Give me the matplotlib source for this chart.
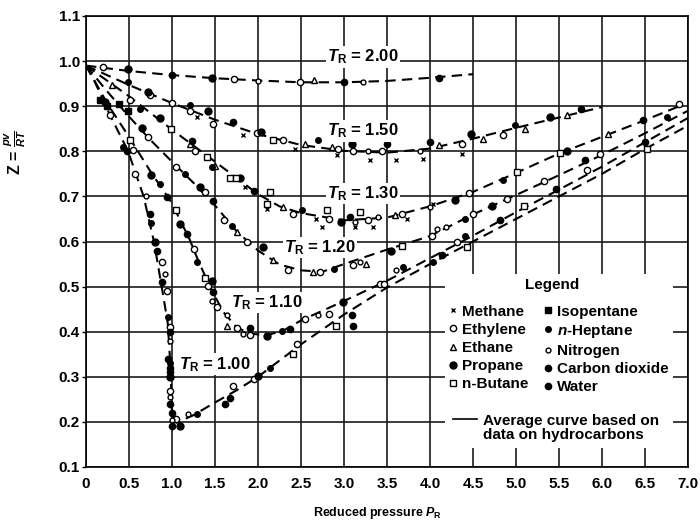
import numpy as np
import matplotlib
matplotlib.use("Agg")
import matplotlib.pyplot as plt
from matplotlib.lines import Line2D
from matplotlib.patches import Rectangle

plt.rcParams['font.family'] = ['Liberation Sans', 'DejaVu Sans']
plt.rcParams['font.weight'] = 'bold'
plt.rcParams['mathtext.fontset'] = 'custom'
plt.rcParams['mathtext.rm'] = 'Liberation Sans:bold'
plt.rcParams['mathtext.it'] = 'Liberation Sans:italic:bold'
plt.rcParams['mathtext.bf'] = 'Liberation Sans:bold'

# average curves (reduced pressure, Z) for each reduced temperature
p_tr200 = [0, 0.5, 1.0, 1.5, 2.0, 2.5, 3.0, 3.5, 4.0, 4.5]
z_tr200 = [0.99, 0.978, 0.969, 0.962, 0.957, 0.953, 0.953, 0.956, 0.963, 0.971]

p_tr150 = [0, 0.5, 1.0, 1.5, 2.0, 2.5, 3.0, 3.5, 4.0, 4.5, 5.0, 5.5, 6.0]
z_tr150 = [0.99, 0.947, 0.907, 0.870, 0.838, 0.814, 0.801, 0.797, 0.806, 0.828, 0.852, 0.875, 0.898]

p_tr130 = [0, 0.5, 1.0, 1.5, 2.0, 2.25, 2.5, 3.0, 3.5, 4.0, 4.5, 5.0, 5.5, 6.0, 6.5, 6.95]
z_tr130 = [0.99, 0.922, 0.848, 0.777, 0.705, 0.678, 0.663, 0.647, 0.653, 0.678, 0.71, 0.752, 0.795, 0.832, 0.869, 0.904]

p_tr120 = [0, 0.25, 0.5, 0.75, 1.0, 1.25, 1.5, 1.75, 2.0, 2.25, 2.5, 2.75, 3.0, 3.5, 4.0, 4.5, 5.0, 5.5, 6.0, 6.5, 7.0]
z_tr120 = [0.99, 0.932, 0.877, 0.825, 0.777, 0.73, 0.68, 0.623, 0.58, 0.549, 0.536, 0.533, 0.55, 0.582, 0.612, 0.66, 0.703, 0.747, 0.792, 0.84, 0.89]

p_tr110 = [0, 0.25, 0.5, 0.75, 1.0, 1.1, 1.2, 1.3, 1.4, 1.5, 1.6, 1.75, 1.9, 2.1, 2.3, 2.5, 3.0, 3.5, 4.0, 4.5, 5.0, 5.5, 6.0, 6.5, 7.0]
z_tr110 = [0.99, 0.905, 0.832, 0.755, 0.685, 0.645, 0.607, 0.56, 0.517, 0.478, 0.443, 0.41, 0.396, 0.392, 0.403, 0.425, 0.468, 0.513, 0.563, 0.613, 0.665, 0.715, 0.766, 0.82, 0.874]

p_tr100 = [0, 0.1, 0.28, 0.49, 0.67, 0.79, 0.88, 0.95, 0.98, 1.0, 1.05, 1.25, 1.5, 1.75, 2.0, 2.5, 3.0, 3.5, 4.0, 4.5, 5.0, 5.5, 6.0, 6.5, 7.0]
z_tr100 = [0.99, 0.955, 0.88, 0.80, 0.70, 0.60, 0.50, 0.42, 0.33, 0.22, 0.198, 0.215, 0.243, 0.27, 0.30, 0.372, 0.438, 0.498, 0.55, 0.60, 0.65, 0.70, 0.75, 0.805, 0.857]

# measured points per gas
p_methane = [1.29, 1.83, 2.43, 2.92, 3.3, 3.61, 3.92, 4.37, 1.85, 2.1, 2.68, 2.74, 3.13, 3.34, 3.73, 4.04]
z_methane = [0.876, 0.837, 0.806, 0.791, 0.78, 0.78, 0.784, 0.795, 0.72, 0.672, 0.65, 0.632, 0.632, 0.632, 0.65, 0.684]

p_ethylene = [0.2, 1.72, 2.49, 0.74, 1.0, 1.21, 1.48, 1.99, 2.29, 2.93, 3.11, 3.44, 4.37, 4.85,
              0.51, 1.27, 2.41, 2.82, 3.28, 3.67, 4.45, 6.89,
              0.72, 1.05, 1.38, 1.6, 1.87, 2.35, 2.72, 3.11, 4.02, 4.5, 4.89, 5.32, 5.98,
              0.28, 0.55, 1.25, 1.42, 1.52, 1.75, 1.91, 2.55, 2.82, 3.42, 4.31, 5.82,
              0.57, 0.88, 0.94, 0.977, 0.977, 1.05, 1.71, 1.95, 2.45, 3.46]
z_ethylene = [0.986, 0.96, 0.953, 0.924, 0.907, 0.89, 0.861, 0.84, 0.824, 0.806, 0.80, 0.80, 0.817, 0.836,
              0.913, 0.80, 0.662, 0.65, 0.647, 0.662, 0.707, 0.904,
              0.832, 0.765, 0.71, 0.648, 0.60, 0.536, 0.532, 0.547, 0.613, 0.662, 0.695, 0.734, 0.793,
              0.88, 0.802, 0.584, 0.502, 0.454, 0.409, 0.393, 0.428, 0.439, 0.506, 0.598, 0.758,
              0.75, 0.554, 0.491, 0.41, 0.269, 0.206, 0.28, 0.295, 0.373, 0.506]

p_ethane = [0.3, 2.65, 2.55, 2.86, 4.1, 4.62, 5.1, 5.59, 1.21, 1.5, 2.29, 3.59, 6.07, 1.75, 2.18, 2.64, 3.26, 1.64]
z_ethane = [0.947, 0.958, 0.817, 0.81, 0.813, 0.828, 0.85, 0.88, 0.817, 0.767, 0.676, 0.658, 0.839, 0.62, 0.558, 0.532, 0.55, 0.413]

p_propane = [0.49, 1.46, 0.72, 1.42, 2.04, 3.09, 4.48, 5.4, 0.86, 1.79, 2.97, 4.29, 5.59,
             0.65, 1.33, 2.06, 3.55, 4.72, 0.76, 1.09, 1.46, 2.1, 2.99, 0.22, 0.8, 0.98, 1.09, 2.0]
z_propane = [0.983, 0.963, 0.932, 0.889, 0.843, 0.817, 0.839, 0.875, 0.873, 0.74, 0.643, 0.693, 0.80,
             0.851, 0.72, 0.587, 0.58, 0.678, 0.747, 0.639, 0.513, 0.391, 0.465, 0.91, 0.60, 0.30, 0.191, 0.302]

p_butane = [2.18, 0.99, 1.41, 1.67, 1.74, 2.14, 2.1, 2.8, 3.19, 5.01, 5.51, 3.67, 0.51, 1.05, 1.38, 2.41, 2.91, 4.43, 5.09, 6.52]
z_butane = [0.824, 0.85, 0.787, 0.74, 0.74, 0.71, 0.684, 0.669, 0.665, 0.754, 0.796, 0.591, 0.824, 0.669, 0.52, 0.35, 0.413, 0.587, 0.678, 0.806]

p_isopentane = [0.16, 0.24, 0.38, 0.49]
z_isopentane = [0.913, 0.90, 0.905, 0.89]

p_heptane = [0.49, 1.21, 2.7, 4.99, 0.63, 1.46, 2.51, 4.85, 1.15, 1.7, 2.88, 4.41, 6.75,
             0.86, 1.29, 2.28, 3.69, 4.41, 0.43, 0.76, 0.957, 0.977, 1.29, 2.14, 4.04]
z_heptane = [0.954, 0.902, 0.824, 0.858, 0.893, 0.765, 0.669, 0.737, 0.75, 0.635, 0.539, 0.65, 0.875,
             0.728, 0.554, 0.402, 0.543, 0.613, 0.81, 0.64, 0.432, 0.33, 0.217, 0.32, 0.554]

p_nitrogen = [2.0, 3.22, 3.28, 3.88, 3.13, 3.4, 4.0, 3.19, 4.08, 4.19, 1.46, 1.64, 1.83, 2.7, 3.61,
              0.70, 0.92, 0.977, 0.977, 1.0, 1.19]
z_nitrogen = [0.956, 0.953, 0.80, 0.80, 0.643, 0.654, 0.676, 0.554, 0.628, 0.633, 0.469, 0.436, 0.395, 0.436, 0.536,
              0.70, 0.528, 0.38, 0.256, 0.205, 0.217]

p_co2 = [1.0, 3.0, 1.71, 3.5, 5.76, 1.23, 1.95, 3.07, 6.48, 1.48, 5.8, 0.94, 1.17, 1.48, 2.37, 4.14, 4.81,
         0.48, 0.74, 0.82, 0.977, 0.98, 1.0, 1.62, 3.11]
z_co2 = [0.969, 0.954, 0.864, 0.817, 0.893, 0.823, 0.713, 0.654, 0.869, 0.69, 0.78, 0.698, 0.617, 0.487, 0.406, 0.569, 0.647,
         0.80, 0.662, 0.58, 0.40, 0.31, 0.191, 0.239, 0.413]

p_water = [4.1, 4.0, 0.88, 0.957, 0.977, 0.98, 1.0, 1.67, 3.09, 1.91, 5.47, 6.5]
z_water = [0.963, 0.821, 0.51, 0.339, 0.32, 0.24, 0.22, 0.254, 0.436, 0.409, 0.717, 0.82]

x_ticks = [0, 0.5, 1.0, 1.5, 2.0, 2.5, 3.0, 3.5, 4.0, 4.5, 5.0, 5.5, 6.0, 6.5, 7.0]
x_tick_labels = ['0', '0.5', '1.0', '1.5', '2.0', '2.5', '3.0', '3.5', '4.0', '4.5', '5.0', '5.5', '6.0', '6.5', '7.0']
y_ticks = [0.1, 0.2, 0.3, 0.4, 0.5, 0.6, 0.7, 0.8, 0.9, 1.0, 1.1]
y_tick_labels = ['0.1', '0.2', '0.3', '0.4', '0.5', '0.6', '0.7', '0.8', '0.9', '1.0', '1.1']

curve_labels = ['2.00', '1.50', '1.30', '1.20', '1.10', '1.00']
label_pos = [(3.22, 1.009), (3.22, 0.845), (3.22, 0.706), (2.72, 0.587), (2.10, 0.465), (1.50, 0.328)]

fig = plt.figure(figsize=(7, 5.24), dpi=100)
ax = fig.add_axes([86/700, 1 - 467/524, 602/700, 451/524])
ax.set_xlim(0, 7.0)
ax.set_ylim(0.1, 1.1)
ax.set_axisbelow(True)
ax.grid(True, color='#1a1a1a', lw=1.2)

# blank area behind the legend
ax.add_patch(Rectangle((4.17, 0.142), 2.66, 0.387, facecolor='white', edgecolor='none', zorder=1))

curves = [(p_tr200, z_tr200), (p_tr150, z_tr150), (p_tr130, z_tr130),
          (p_tr120, z_tr120), (p_tr110, z_tr110), (p_tr100, z_tr100)]
for (p, z) in curves:
    ax.plot(p, z, color='black', lw=1.5, dashes=(5, 3), zorder=2)

for lab, (x, y) in zip(curve_labels, label_pos):
    ax.text(x, y, r'$T_{\mathrm{R}}$ = ' + lab, fontsize=12, ha='center', va='center', zorder=4,
            bbox=dict(facecolor='white', edgecolor='none', pad=1.0))

ms = dict(linestyle='none', mec='black', zorder=3)
h1 = ax.plot(p_methane, z_methane, marker='x', ms=3, mew=1, color='black', label='Methane', **ms)[0]
h2 = ax.plot(p_ethylene, z_ethylene, marker='o', ms=4.5, mew=1, mfc='white', label='Ethylene', **ms)[0]
h3 = ax.plot(p_ethane, z_ethane, marker='^', ms=4.5, mew=1, mfc='white', label='Ethane', **ms)[0]
h4 = ax.plot(p_propane, z_propane, marker='o', ms=5, mew=1, mfc='black', label='Propane', **ms)[0]
h5 = ax.plot(p_butane, z_butane, marker='s', ms=4.3, mew=1, mfc='white', label='n-Butane', **ms)[0]
h6 = ax.plot(p_isopentane, z_isopentane, marker='s', ms=4.3, mew=1, mfc='black', label='Isopentane', **ms)[0]
h7 = ax.plot(p_heptane, z_heptane, marker='o', ms=4, mew=1, mfc='black', label=r'$n$-Heptane', **ms)[0]
h8 = ax.plot(p_nitrogen, z_nitrogen, marker='o', ms=3.5, mew=1, mfc='white', label='Nitrogen', **ms)[0]
h9 = ax.plot(p_co2, z_co2, marker='o', ms=4.5, mew=1, mfc='black', label='Carbon dioxide', **ms)[0]
h10 = ax.plot(p_water, z_water, marker='o', ms=4.5, mew=1, mfc='black', label='Water', **ms)[0]

fig.text(552/700, 1 - 285/524, 'Legend', ha='center', va='center', fontsize=11)
leg = ax.legend(handles=[h1, h2, h3, h4, h5, h6, h7, h8, h9, h10], ncol=2,
                loc='upper left', bbox_to_anchor=(441/700, 1 - 297/524), bbox_transform=fig.transFigure,
                frameon=False, borderpad=0, handlelength=0.6, handletextpad=0.3,
                columnspacing=0.93, labelspacing=0.27, fontsize=11)
ax.add_artist(leg)

avg = Line2D([], [], color='black', lw=1.2)
blank = Line2D([], [], linestyle='none')
ax.legend(handles=[avg, blank], labels=['Average curve based on', 'data on hydrocarbons'],
          loc='upper left', bbox_to_anchor=(445/700, 1 - 406/524), bbox_transform=fig.transFigure,
          frameon=False, borderpad=0, handlelength=1.6, handletextpad=0.4,
          labelspacing=0.05, fontsize=11)

ax.set_xticks(x_ticks)
ax.set_xticklabels(x_tick_labels)
ax.set_yticks(y_ticks)
ax.set_yticklabels(y_tick_labels)
ax.tick_params(axis='x', length=0, pad=7, labelsize=11)
ax.tick_params(axis='y', length=3, width=1, pad=1.5, labelsize=11)
for s in ax.spines.values():
    s.set_linewidth(1.2)

fig.text(378/700, 1 - 513/524, r'Reduced pressure $P_{\mathrm{R}}$', ha='center', va='center', fontsize=9)
fig.text(15/700, 1 - 152/524, r'Z = $\frac{pv}{RT}$', ha='center', va='center', rotation=90, fontsize=11.5)

fig.savefig('out.png', dpi=100)
